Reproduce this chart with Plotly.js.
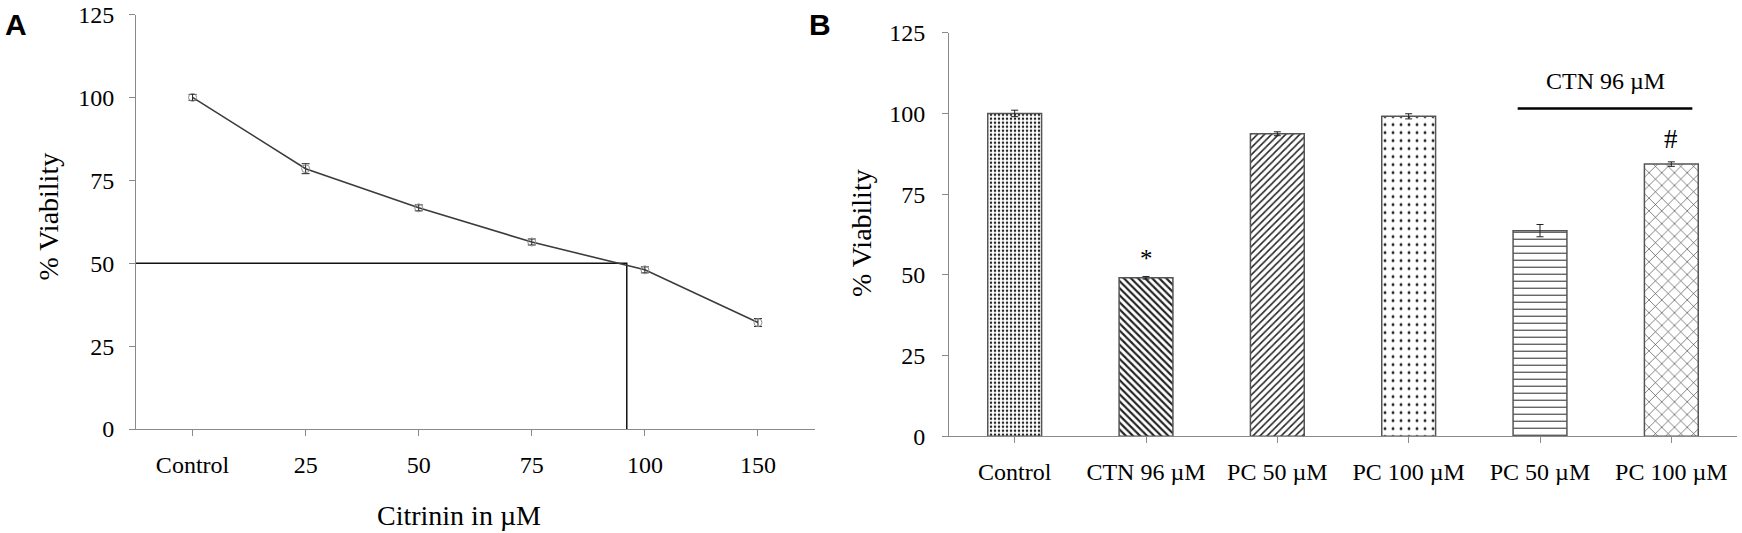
<!DOCTYPE html>
<html>
<head>
<meta charset="utf-8">
<script src="https://cdn.plot.ly/plotly-3.0.1.min.js"></script>
<style>html,body{margin:0;padding:0;background:#fff;}#chart{width:1742px;height:533px;}</style>
</head>
<body>
<div id="chart"></div>
<script>
// ---- Panel A data ----
const catsA = ['Control', '25', '50', '75', '100', '150'];
const concA = [0, 25, 50, 75, 100, 150];
const viabA = [100, 78.5, 66.7, 56.4, 48.0, 32.1];
const errA  = [0.9, 1.5, 0.9, 0.9, 0.9, 1.2];
const ic50 = 96;
const ic50Viab = 50;

// ---- Panel B data ----
const catsB = ['Control', 'CTN 96 µM', 'PC 50 µM', 'PC 100 µM', 'PC 50 µM', 'PC 100 µM'];
const viabB = [100, 49.1, 93.7, 99.1, 63.7, 84.3];
const errB  = [1.0, 0.4, 0.6, 0.8, 1.9, 0.7];
const sigB  = ['', '*', '', '', '', '#'];
const groupLabel = 'CTN 96 µM';
const groupIdx = [4, 5];

// position of IC50 on the category-index axis
let ic50Pos = 0;
for (let i = 1; i < concA.length; i++) {
  if (ic50 >= concA[i - 1] && ic50 <= concA[i]) {
    ic50Pos = (i - 1) + (ic50 - concA[i - 1]) / (concA[i] - concA[i - 1]);
  }
}
const idxA = catsA.map((c, i) => i);
const idxB = catsB.map((c, i) => i);

const W = 1742, H = 533;
const px = v => v / W;
const py = v => 1 - v / H;
const serif = 'Liberation Serif, Times New Roman, serif';
const axisGray = '#8a8a8a';

const traces = [
  {
    x: [-0.5, ic50Pos, ic50Pos], y: [ic50Viab, ic50Viab, -0.7],
    xaxis: 'x', yaxis: 'y', mode: 'lines', type: 'scatter',
    line: {color: '#111', width: 1.5}, cliponaxis: false, hoverinfo: 'skip'
  },
  {
    x: idxA, y: viabA, xaxis: 'x', yaxis: 'y', type: 'scatter', mode: 'lines+markers',
    line: {color: '#3c3c3c', width: 1.6},
    marker: {symbol: 'circle-open', size: 8, color: '#8c8c8c', line: {width: 1}},
    error_y: {type: 'data', array: errA, visible: true, color: '#222', thickness: 1, width: 4},
    cliponaxis: false
  },
  {
    x: idxB, y: viabB, xaxis: 'x2', yaxis: 'y2', type: 'bar', width: 0.41,
    marker: {
      color: '#ffffff',
      line: {color: '#555', width: 1.5},
      pattern: {
        shape: ['.', '\\', '/', '.', '-', 'x'],
        size: [4, 5, 5, 8, 7, 9],
        solidity: [0.3, 0.42, 0.3, 0.1, 0.14, 0.12],
        fgcolor: '#222', bgcolor: '#fff', fillmode: 'replace'
      }
    },
    error_y: {type: 'data', array: errB, visible: true, color: '#222', thickness: 1, width: 3.5},
    cliponaxis: false
  }
];

const annotations = [
  {text: 'A', xref: 'paper', yref: 'paper', x: px(3), y: py(6), xanchor: 'left', yanchor: 'top',
   showarrow: false, font: {family: 'Liberation Sans, Arial, sans-serif', size: 30, color: '#000', weight: 'bold'}},
  {text: 'B', xref: 'paper', yref: 'paper', x: px(807), y: py(6), xanchor: 'left', yanchor: 'top',
   showarrow: false, font: {family: 'Liberation Sans, Arial, sans-serif', size: 30, color: '#000', weight: 'bold'}},
  {text: '% Viability', xref: 'paper', yref: 'paper', x: px(48.5), y: py(217), textangle: -90,
   xanchor: 'center', yanchor: 'middle', showarrow: false, font: {family: serif, size: 28, color: '#000'}},
  {text: '% Viability', xref: 'paper', yref: 'paper', x: px(861), y: py(233), textangle: -90,
   xanchor: 'center', yanchor: 'middle', showarrow: false, font: {family: serif, size: 28, color: '#000'}},
  {text: 'Citrinin in µM', xref: 'paper', yref: 'paper', x: px(458.5), y: py(515),
   xanchor: 'center', yanchor: 'middle', showarrow: false, font: {family: serif, size: 28, color: '#000'}},
  {text: groupLabel, xref: 'x2', yref: 'y2', x: (groupIdx[0] + groupIdx[1]) / 2, y: 110,
   xanchor: 'center', yanchor: 'middle', showarrow: false, font: {family: serif, size: 24, color: '#000'}}
];
sigB.forEach((s, i) => {
  if (s) annotations.push({
    text: s, xref: 'x2', yref: 'y2', x: i, y: viabB[i] + errB[i], xanchor: 'center', yanchor: 'bottom',
    yshift: s === '#' ? 6 : 2, showarrow: false, font: {family: serif, size: s === '#' ? 27 : 25, color: '#000'}
  });
});

const shapes = [
  {type: 'line', xref: 'x2', yref: 'y2', x0: groupIdx[0] - 0.17, x1: groupIdx[1] + 0.16, y0: 101.5, y1: 101.5,
   line: {color: '#000', width: 2.5}}
];

const axBase = {
  showgrid: false, zeroline: false, showline: true, linecolor: axisGray, linewidth: 1,
  ticks: 'outside', tickcolor: axisGray, ticklen: 6, tickwidth: 1,
  tickfont: {family: serif, size: 24, color: '#000'}, fixedrange: true
};

const layout = {
  width: W, height: H, margin: {l: 0, r: 0, t: 0, b: 0},
  paper_bgcolor: '#fff', plot_bgcolor: '#fff', showlegend: false,
  xaxis: Object.assign({}, axBase, {
    domain: [px(136), px(814.5)], range: [-0.5, 5.5], tickvals: idxA, ticktext: catsA,
    anchor: 'y', ticklabelstandoff: 8
  }),
  yaxis: Object.assign({}, axBase, {
    domain: [py(429), py(14.5)], range: [0, 125], tickvals: [0, 25, 50, 75, 100, 125],
    anchor: 'x', ticklabelstandoff: 10
  }),
  xaxis2: Object.assign({}, axBase, {
    domain: [px(949), px(1737)], range: [-0.5, 5.5], tickvals: idxB, ticktext: catsB,
    anchor: 'y2', ticklabelstandoff: 8
  }),
  yaxis2: Object.assign({}, axBase, {
    domain: [py(436.3), py(32.7)], range: [0, 125], tickvals: [0, 25, 50, 75, 100, 125],
    anchor: 'x2', ticklabelstandoff: 12
  }),
  annotations: annotations,
  shapes: shapes
};

Plotly.newPlot('chart', traces, layout, {staticPlot: true, displayModeBar: false});
</script>
</body>
</html>
